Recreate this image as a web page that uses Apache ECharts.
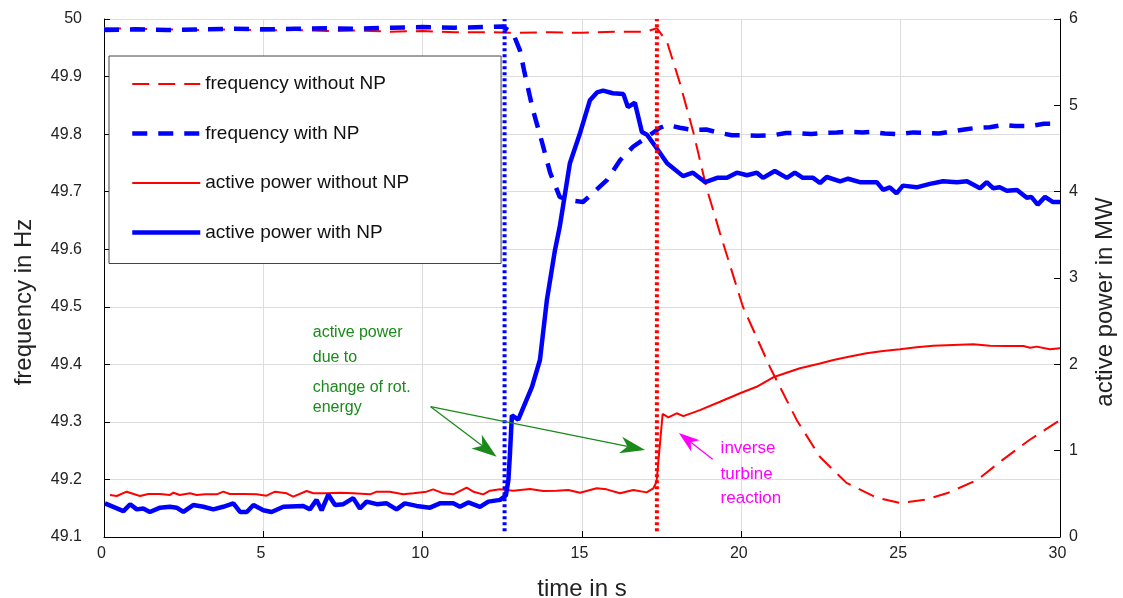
<!DOCTYPE html>
<html>
<head>
<meta charset="utf-8">
<script src="https://cdn.jsdelivr.net/npm/echarts@6/dist/echarts.min.js"></script>
<style>html,body{margin:0;padding:0;background:#fff}#c{width:1123px;height:598px}</style>
</head>
<body>
<div id="c"></div>
<script>
// ---- data ----
const seriesNames = ['frequency without NP', 'frequency with NP', 'active power without NP', 'active power with NP'];

const tFreqNoNP = [0,1,2,3,4,5,6,7,8,9,10,11,12,13,14,15,16,17,17.35,17.67,18.07,18.5,18.9,19.33,20.05,20.9,21.74,22.47,23.3,24.25,25.0,25.8,26.5,27.4,28.2,29.05,30];
const fFreqNoNP = [49.984,49.983,49.982,49.981,49.982,49.980,49.981,49.979,49.980,49.978,49.979,49.977,49.977,49.976,49.977,49.976,49.978,49.978,
  49.984,49.960,49.889,49.802,49.708,49.628,49.500,49.395,49.303,49.239,
  49.194,49.168,49.159,49.165,49.177,49.199,49.234,49.269,49.303];

const tFreqNP = [0,1,2,3,4,5,6,7,8,9,10,11,12,12.5,12.83,13.05,13.2,13.46,13.75,14.0,14.3,14.6,15.03,15.35,15.78,16.2,16.6,17.04,17.45,17.67,18.07,18.48,18.9,19.33,19.7,20.05,20.5,21.0,21.4,21.74,22.2,22.57,23.0,23.4,23.8,24.1,24.5,24.98,25.4,25.8,26.2,26.65,27.0,27.4,27.8,28.2,28.6,29.05,29.5,30];
const fFreqNP = [49.981,49.982,49.981,49.982,49.983,49.982,49.983,49.984,49.983,49.985,49.986,49.985,49.986,
  49.987,49.976,49.946,49.906,49.842,49.785,49.733,49.691,49.685,49.682,
  49.698,49.720,49.755,49.778,49.795,49.811,49.816,49.811,49.807,49.808,
  49.802,49.798,49.798,49.797,49.798,49.802,49.802,49.800,49.802,49.803,
  49.804,49.803,49.804,49.801,49.800,49.803,49.802,49.801,49.805,49.808,
  49.811,49.812,49.816,49.814,49.814,49.818,49.818];

const tPowNoNP = [0.19,0.40,0.71,1.13,1.39,1.76,2.07,2.18,2.38,2.70,2.91,3.17,3.54,3.74,3.95,4.37,4.79,5.10,5.37,5.73,5.94,6.36,6.57,6.99,7.41,7.82,8.35,8.56,8.97,9.39,9.71,10.12,10.33,10.65,10.96,11.38,11.59,11.90,12.11,12.43,12.84,13.37,13.78,14.2,14.57,14.94,15.46,15.77,16.19,16.61,17.03,17.24,17.34,17.53,17.71,17.97,18.18,18.7,19.33,19.96,20.48,21.0,21.84,22.47,22.89,23.41,23.93,24.45,24.98,25.5,26.02,26.65,27.28,27.8,28.32,28.85,29.06,29.27,29.68,30];
const pPowNoNP = [0.487,0.475,0.525,0.475,0.498,0.498,0.487,0.513,0.487,0.506,
  0.487,0.494,0.494,0.525,0.498,0.498,0.494,0.479,0.525,0.506,
  0.467,0.533,0.506,0.506,0.513,0.506,0.494,0.525,0.525,0.494,
  0.506,0.525,0.552,0.506,0.494,0.571,0.525,0.494,0.537,0.552,
  0.537,0.556,0.533,0.537,0.544,0.513,0.564,0.552,0.506,0.544,
  0.517,0.564,0.64,1.425,1.386,1.433,1.40,1.47,1.567,1.665,
  1.74,1.85,1.954,2.01,2.05,2.09,2.128,2.155,2.174,2.197,
  2.216,2.224,2.232,2.216,2.212,2.212,2.193,2.205,2.174,2.186];

const tPowNP = [0.03,0.61,0.82,1.03,1.23,1.44,1.76,2.07,2.28,2.49,2.8,3.12,3.43,3.74,4.06,4.27,4.48,4.69,5.0,5.26,5.63,6.25,6.46,6.67,6.83,7.04,7.25,7.51,7.82,8.03,8.24,8.56,8.87,9.18,9.44,9.81,10.23,10.54,10.96,11.17,11.43,11.8,12.06,12.43,12.61,12.69,12.74,12.8,13.0,13.43,13.68,13.9,14.15,14.3,14.62,14.94,15.25,15.47,15.66,15.97,16.3,16.44,16.66,16.88,17.04,17.35,17.67,18.17,18.48,18.87,19.24,19.55,19.86,20.18,20.49,20.68,21.05,21.43,21.68,21.93,22.25,22.47,22.68,23.1,23.35,23.72,24.25,24.45,24.66,24.87,25.07,25.5,25.92,26.33,26.76,27.08,27.49,27.7,27.9,28.11,28.33,28.65,28.96,29.1,29.3,29.53,29.78,30];
const pPowNP = [0.39,0.30,0.38,0.32,0.33,0.29,0.34,0.35,0.34,0.29,0.37,0.35,0.32,0.35,0.39,0.29,0.29,0.37,0.31,0.29,
  0.35,0.36,0.32,0.43,0.31,0.49,0.37,0.38,0.45,0.33,0.41,0.38,0.39,0.32,0.39,0.36,0.34,0.39,0.39,0.35,
  0.40,0.35,0.41,0.43,0.48,0.66,0.97,1.41,1.36,1.74,2.05,2.75,3.32,3.59,4.33,4.68,5.06,5.15,5.17,5.14,
  5.13,4.98,5.03,4.69,4.66,4.50,4.33,4.18,4.22,4.11,4.16,4.16,4.22,4.19,4.22,4.16,4.24,4.16,4.22,4.16,
  4.16,4.10,4.17,4.12,4.15,4.11,4.11,4.02,4.05,3.98,4.07,4.05,4.09,4.12,4.11,4.12,4.04,4.11,4.04,4.05,
  4.01,4.02,3.93,3.94,3.85,3.94,3.88,3.88];

// event markers (time in s)
const tEventNP = 12.57;
const tEventNoNP = 17.35;
const markerSpan = [49.11, 50];

// annotations (time, power)
const greenText = ['active power', 'due to', 'change of rot.', 'energy'];
const greenTextT = 6.55;
const greenTextP = [2.363, 2.073, 1.726, 1.494];
const greenArrowFrom = [10.25, 1.509];
const greenArrowTips = [[12.32, 0.93], [16.98, 1.008]];
const magentaText = ['inverse', 'turbine', 'reaction'];
const magentaTextT = 19.35;
const magentaTextP = [1.03, 0.73, 0.45];
const magentaArrowFrom = [19.1, 0.90];
const magentaArrowTip = [18.04, 1.205];

// ---- chart ----
const FONT = '"Liberation Sans", Arial, Helvetica, sans-serif';
const RED = '#ff0000', BLUE = '#0000ff';
function pairs(ts, vs) { return ts.map((t, i) => [t, vs[i]]); }
const chart = echarts.init(document.getElementById('c'), null, { renderer: 'canvas' });

const axisLineStyle = { show: true, lineStyle: { color: '#000', width: 1 } };
const styles = [
  { color: RED, width: 2, type: [17, 9] },
  { color: BLUE, width: 4.5, type: [15, 11] },
  { color: RED, width: 2, type: 'solid' },
  { color: BLUE, width: 4.5, type: 'solid' }
];
const option = {
  animation: false,
  backgroundColor: '#fff',
  grid: { left: 104, right: 63, top: 19, bottom: 61, containLabel: false, outerBoundsMode: 'none' },
  xAxis: {
    type: 'value', min: 0, max: 30, interval: 5,
    name: 'time in s', nameLocation: 'middle', nameGap: 40,
    nameTextStyle: { fontSize: 24, color: '#222', fontFamily: FONT },
    axisLine: axisLineStyle,
    axisTick: { show: true, inside: true, length: 6, lineStyle: { color: '#000' } },
    axisLabel: { fontSize: 16, color: '#222', margin: 9, fontFamily: FONT, padding: [0, 5, 0, 0] },
    splitLine: { show: true, lineStyle: { color: '#dcdcdc', width: 1 } }
  },
  yAxis: [
    {
      type: 'value', min: 49.1, max: 50, interval: 0.1, position: 'left',
      name: 'frequency in Hz', nameLocation: 'middle', nameGap: 68,
      nameTextStyle: { fontSize: 24, color: '#222', fontFamily: FONT, padding: [0, 48, 0, 0] },
      axisLine: axisLineStyle,
      axisTick: { show: true, inside: true, length: 6, lineStyle: { color: '#000' } },
      axisLabel: { fontSize: 16, color: '#222', margin: 22, fontFamily: FONT, padding: [0, 0, 7, 0] },
      splitLine: { show: true, lineStyle: { color: '#dcdcdc', width: 1 } }
    },
    {
      type: 'value', min: 0, max: 6, interval: 1, position: 'right',
      name: 'active power in MW', nameLocation: 'middle', nameGap: 33,
      nameTextStyle: { fontSize: 24, color: '#222', fontFamily: FONT, padding: [0, 48, 0, 0] },
      axisLine: axisLineStyle,
      axisTick: { show: true, inside: true, length: 6, lineStyle: { color: '#000' } },
      axisLabel: { fontSize: 16, color: '#222', margin: 9, fontFamily: FONT, padding: [0, 0, 7, 0] },
      splitLine: { show: false }
    }
  ],
  legend: {
    orient: 'vertical', left: 109, top: 56,
    padding: [18, 92, 21, 21], itemGap: 29.5, itemWidth: 68, itemHeight: 14,
    backgroundColor: '#fff', borderColor: '#444', borderWidth: 1,
    itemStyle: { color: 'rgba(0,0,0,0)', borderWidth: 0, opacity: 0 },
    textStyle: { fontSize: 19, color: '#111', fontFamily: FONT, lineHeight: 20 },
    data: seriesNames.map((n, i) => ({ name: n, lineStyle: { color: styles[i].color, width: styles[i].width, type: styles[i].type } }))
  },
  series: [
    { name: seriesNames[0], type: 'line', yAxisIndex: 0, symbol: 'none', z: 3,
      lineStyle: styles[0], itemStyle: { color: RED },
      data: pairs(tFreqNoNP, fFreqNoNP) },
    { name: seriesNames[1], type: 'line', yAxisIndex: 0, symbol: 'none', z: 4,
      lineStyle: styles[1], itemStyle: { color: BLUE },
      data: pairs(tFreqNP, fFreqNP) },
    { name: seriesNames[2], type: 'line', yAxisIndex: 1, symbol: 'none', z: 3,
      lineStyle: styles[2], itemStyle: { color: RED },
      data: pairs(tPowNoNP, pPowNoNP) },
    { name: seriesNames[3], type: 'line', yAxisIndex: 1, symbol: 'none', z: 4,
      lineStyle: styles[3], itemStyle: { color: BLUE },
      data: pairs(tPowNP, pPowNP) },
    { name: 'event NP', type: 'line', yAxisIndex: 0, symbol: 'none', z: 5,
      lineStyle: { color: BLUE, width: 4, type: [3, 3] },
      data: markerSpan.map(v => [tEventNP, v]) },
    { name: 'event no NP', type: 'line', yAxisIndex: 0, symbol: 'none', z: 5,
      lineStyle: { color: RED, width: 4, type: [3, 3] },
      data: markerSpan.map(v => [tEventNoNP, v]) }
  ]
};
chart.setOption(option);

// ---- annotations placed in data coordinates ----
function px(pt) { return chart.convertToPixel({ seriesIndex: 2 }, pt); }
function arrow(from, tip, color, len, wid, lw) {
  const a = px(from), b = px(tip);
  const dx = b[0] - a[0], dy = b[1] - a[1];
  const d = Math.sqrt(dx * dx + dy * dy);
  const ux = dx / d, uy = dy / d, nx = -uy, ny = ux;
  const cx = b[0] - ux * len, cy = b[1] - uy * len;
  const kx = b[0] - ux * len * 0.72, ky = b[1] - uy * len * 0.72;
  return [
    { type: 'line', z: 10, shape: { x1: a[0], y1: a[1], x2: kx, y2: ky }, style: { stroke: color, lineWidth: lw } },
    { type: 'polygon', z: 10, shape: { points: [[b[0], b[1]], [cx + nx * wid / 2, cy + ny * wid / 2], [kx, ky], [cx - nx * wid / 2, cy - ny * wid / 2]] }, style: { fill: color } }
  ];
}
const gfx = [];
const GREEN = '#1b8a1b', MAGENTA = '#ff00ff';
greenText.forEach((s, i) => {
  const p = px([greenTextT, greenTextP[i]]);
  gfx.push({ type: 'text', z: 10, x: p[0], y: p[1], style: { text: s, fill: GREEN, font: '16px ' + FONT, verticalAlign: 'middle', align: 'left' } });
});
magentaText.forEach((s, i) => {
  const p = px([magentaTextT, magentaTextP[i]]);
  gfx.push({ type: 'text', z: 10, x: p[0], y: p[1], style: { text: s, fill: MAGENTA, font: '17px ' + FONT, verticalAlign: 'middle', align: 'left' } });
});
greenArrowTips.forEach(tp => arrow(greenArrowFrom, tp, GREEN, 25, 17, 1.3).forEach(e => gfx.push(e)));
arrow(magentaArrowFrom, magentaArrowTip, MAGENTA, 21, 14, 1.3).forEach(e => gfx.push(e));
chart.setOption({ graphic: gfx });
</script>
</body>
</html>
